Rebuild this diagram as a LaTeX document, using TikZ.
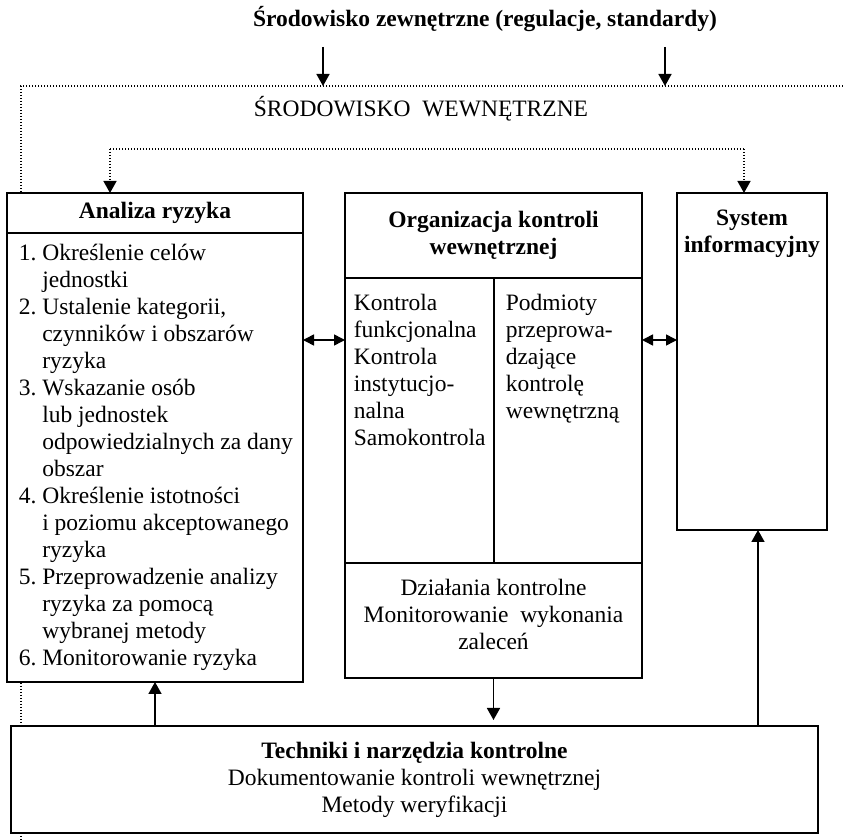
\documentclass[tikz,border=0pt]{standalone}
\usepackage{fontspec}
\setmainfont{Liberation Serif}
\usetikzlibrary{arrows.meta,positioning,backgrounds}

% indentation of the continued lines in the risk list
\newcommand{\listcont}{\hphantom{1.\ }}

\begin{document}
\begin{tikzpicture}[x=0.5pt,y=-0.5pt,line width=0.8pt]
    % `block' is used for all framed boxes.
    % `txt' and `headtxt' are the plain and the bold texts.
    % `env' is used for the dotted environment lines.
    \tikzstyle{block} = [draw,fill=white,inner sep=0pt,outer sep=0pt]
    \tikzstyle{txt} = [inner sep=0pt,align=left,font=\fontsize{11.75}{13.5}\selectfont\frenchspacing]
    \tikzstyle{headtxt} = [inner sep=0pt,align=center,font=\fontsize{11.75}{13.5}\selectfont\bfseries]
    \tikzstyle{env} = [line width=0.7pt,dash pattern=on 0.7pt off 0.8pt]
    \tikzstyle{arr} = [-{Triangle[length=6pt,width=6.5pt]}]
    \tikzstyle{twoway} = [{Triangle[length=5.5pt,width=5.5pt]}-{Triangle[length=5.5pt,width=5.5pt]}]
    %
    \useasboundingbox (0,0) rectangle (843,840);
    \node[headtxt,anchor=base] (ext) at (485,27) {Środowisko zewnętrzne (regulacje, standardy)};
    \node[txt,anchor=base] (int) at (421,117) {ŚRODOWISKO~~WEWNĘTRZNE};
    %
    \node[block,headtxt,anchor=north west,minimum width=148pt,minimum height=20pt] (anahead) at (7,193) {Analiza ryzyka};
    \node[block,minimum width=148pt,minimum height=224.5pt,below=0pt of anahead] (analist) {};
    \node[txt,anchor=north west] (anatxt) at ([xshift=5.5pt,yshift=-5pt]analist.north west) {1.\ Określenie celów\\\listcont jednostki\\2.\ Ustalenie kategorii,\\\listcont czynników i obszarów\\\listcont ryzyka\\3.\ Wskazanie osób\\\listcont lub jednostek\\\listcont odpowiedzialnych za dany\\\listcont obszar\\4.\ Określenie istotności\\\listcont i poziomu akceptowanego\\\listcont ryzyka\\5.\ Przeprowadzenie analizy\\\listcont ryzyka za pomocą\\\listcont wybranej metody\\6.\ Monitorowanie ryzyka};
    %
    \node[block,headtxt,minimum width=148.5pt,minimum height=42.5pt,right=21pt of anahead.north east,anchor=north west] (orghead) {Organizacja kontroli\\wewnętrznej};
    \node[block,minimum width=74.5pt,minimum height=142.5pt,below right=0pt and 0pt of orghead.south west] (orgleft) {};
    \node[block,minimum width=74pt,minimum height=142.5pt,right=0pt of orgleft] (orgright) {};
    \node[block,minimum width=148.5pt,minimum height=57.5pt,below right=0pt and 0pt of orgleft.south west] (orgbot) {};
    \node[txt,anchor=north west] (orglefttxt) at ([xshift=4pt,yshift=-7.5pt]orgleft.north west) {Kontrola\\funkcjonalna\\Kontrola\\instytucjo-\\nalna\\Samokontrola};
    \node[txt,anchor=north west] (orgrighttxt) at ([xshift=5.5pt,yshift=-7.5pt]orgright.north west) {Podmioty\\przeprowa-\\dzające\\kontrolę\\wewnętrzną};
    \node[txt,align=center,anchor=north] (orgbottxt) at ([yshift=-7.5pt]orgbot.north) {Działania kontrolne\\Monitorowanie~~wykonania\\zaleceń};
    %
    \node[block,minimum width=75pt,minimum height=168.5pt,right=17.5pt of orghead.north east,anchor=north west] (sys) {};
    \node[headtxt,anchor=north] (systxt) at ([yshift=-8pt]sys.north) {System\\informacyjny};
    %
    \node[block,txt,align=center,anchor=north west,minimum width=403.5pt,minimum height=53.5pt] (tech) at (11,726) {\textbf{Techniki i narzędzia kontrolne}\\Dokumentowanie kontroli wewnętrznej\\Metody weryfikacji};
    %
    \coordinate (frameE) at (843,86);
    \coordinate (frameNW) at (21,86);
    \coordinate (frameS) at (21,840);
    \coordinate (extL) at (323,47);
    \coordinate (extR) at (665,47);
    \coordinate (intL) at (110,149);
    \coordinate (intR) at (744,149);
    \coordinate (rowA) at (0,340);
    \coordinate (colA) at (155,0);
    \coordinate (colB) at (758,0);
    % Draw arrows.
    \draw[arr] (extL) -- (extL |- frameNW);
    \draw[arr] (extR) -- (extR |- frameNW);
    \draw[env] (intL) -- (intR);
    \draw[env,arr] (intL) -- (intL |- anahead.north);
    \draw[env,arr] (intR) -- (intR |- sys.north);
    \draw[twoway] (analist.east |- rowA) -- (orgleft.west |- rowA);
    \draw[twoway] (orgright.east |- rowA) -- (sys.west |- rowA);
    \draw[arr] (tech.north -| colA) -- (analist.south -| colA);
    \draw[arr,shorten >=3pt] (orgbot.south) -- (orgbot.south |- tech.north);
    \draw[arr] (tech.north -| colB) -- (sys.south -| colB);
    \begin{pgfonlayer}{background}
        % Draw the environment frame.
        \draw[env] (frameE) -- (frameNW) -- (frameS);
    \end{pgfonlayer}
\end{tikzpicture}
\end{document}
